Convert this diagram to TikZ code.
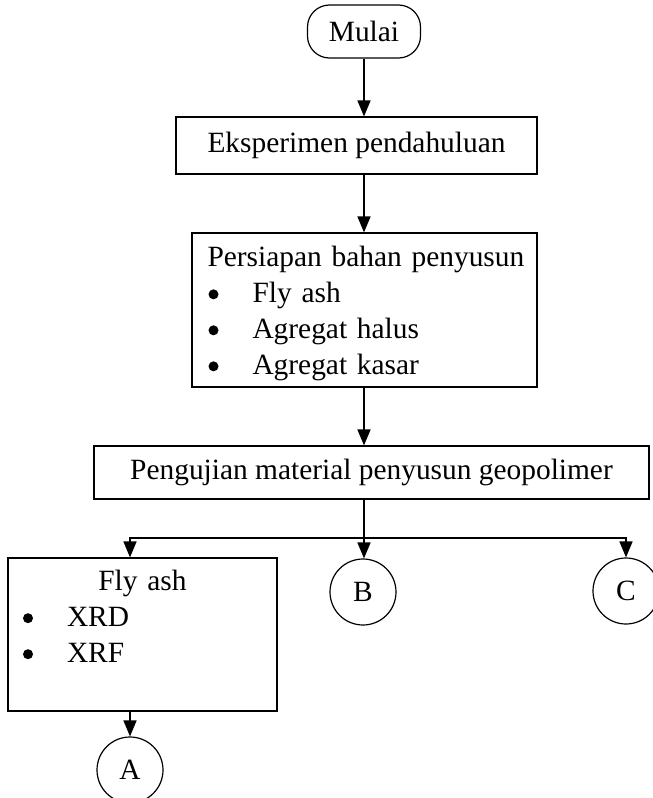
\documentclass[tikz,border=0pt]{standalone}
\usepackage{fontspec}
\setmainfont{Liberation Serif}
\usetikzlibrary{arrows.meta}
% list marker: a round dot followed by the item indent
\newcommand\itembul{\makebox[45pt][l]{\hspace{1pt}\raisebox{3.5pt}{\tikz\fill (0,0) circle (5pt);}}}
\begin{document}
\begin{tikzpicture}[x=1pt,y=1pt,
  font=\fontsize{29.4}{36}\selectfont,
  box/.style={draw,line width=1.2pt,inner sep=0pt,align=center},
  conn/.style={circle,draw,line width=1.2pt,minimum size=66pt,inner sep=0pt},
  flow/.style={line width=1.6pt,-{Triangle[width=13pt,length=16pt]}},
  trunk/.style={line width=1.6pt}]
\useasboundingbox (0,0) rectangle (653,-798);

% process boxes
\node[box,rounded corners=22pt,minimum width=113pt,minimum height=53pt] (mulai) at (364,-31.5) {Mulai};
\node[box,minimum width=361pt,minimum height=57pt] (eksp) at (356.5,-145.5) {Eksperimen pendahuluan};
\node[box,minimum width=345pt,minimum height=154pt,text width=330pt,align=left] (siap) at (364.5,-310)
  {\hspace*{8pt}\rule{0pt}{28pt}Persiapan bahan penyusun\\ \hspace*{8pt}\itembul Fly ash\\ \hspace*{8pt}\itembul Agregat halus\\ \hspace*{8pt}\itembul Agregat kasar};
\node[box,minimum width=555pt,minimum height=53pt] (uji) at (371.5,-472.5) {Pengujian material penyusun geopolimer};
\node[box,minimum width=269pt,minimum height=153pt,text width=241pt,align=left] (fa) at (142.5,-634.5)
  {\makebox[\hsize]{Fly ash}\\ \itembul XRD\\ \itembul XRF\\ \mbox{}};

% off-page connectors
\node[conn] (A) at (130,-770) {A};
\node[conn] (B) at (363,-592) {B};
\node[conn] (C) at (626,-591) {C};

% connectors
\coordinate (split) at (364,-538);
\draw[flow] (mulai.south) -- (mulai.south |- eksp.north);
\draw[flow] (mulai.south |- eksp.south) -- (mulai.south |- siap.north);
\draw[flow] (mulai.south |- siap.south) -- (mulai.south |- uji.north);
\draw[trunk] (split |- uji.south) -- (split);
\draw[flow] (split) -| (fa.north -| A.north);
\draw[flow] (split) -- (split |- B.north);
\draw[flow] (split) -| (C.north);
\draw[flow] (fa.south -| A.north) -- (A.north);
\end{tikzpicture}
\end{document}
